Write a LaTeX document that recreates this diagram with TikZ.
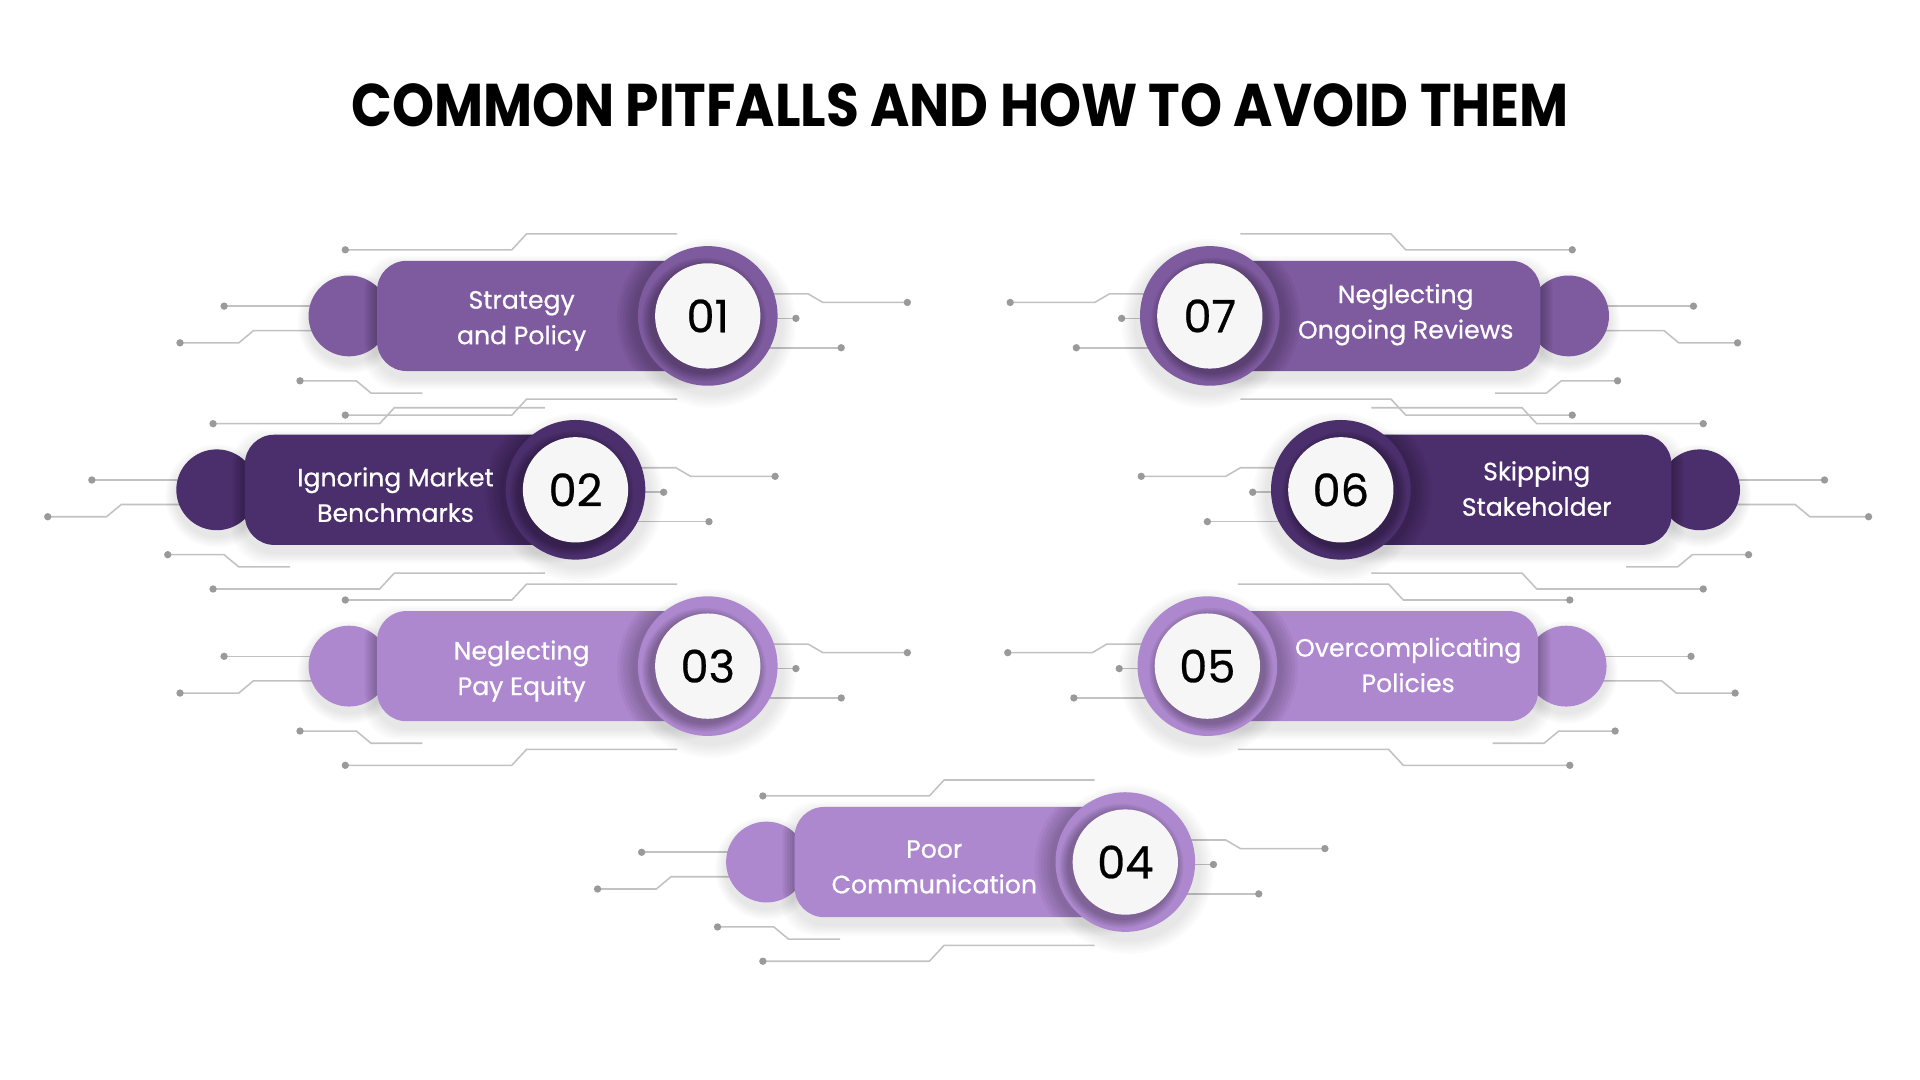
\documentclass[tikz,border=0pt]{standalone}
\usepackage{fontspec}
\setmainfont{Poppins}
\newfontfamily\medfont{Poppins}[FakeBold=0.6]
\definecolor{pmid}{HTML}{7E5A9F}
\definecolor{pdark}{HTML}{4B2E6C}
\definecolor{plight}{HTML}{AE88CF}
\definecolor{leadc}{HTML}{C2C2C2}
\definecolor{dotc}{HTML}{9A9A9A}
\definecolor{wcirc}{HTML}{F6F6F6}
\tikzset{
  lead/.style={draw=leadc, line width=0.9pt},
  leaddot/.style={fill=dotc},
  lbl/.style={text=white, align=center, font=\medfont\fontsize{14.6}{20.6}\selectfont},
  numc/.style={circle, fill=wcirc, minimum size=2.15cm, inner sep=0pt, text=black, font=\medfont\fontsize{26}{26}\selectfont},
  titlef/.style={text=black, font=\bfseries\fontsize{35}{35}\selectfont, anchor=base},
}
% leaders: rx, cy, side
\newcommand\pleads[3]{%
  \draw[lead] ({#1-#3*296},{#2-54}) -- ({#1-#3*160},{#2-54}) -- ({#1-#3*148},{#2-67}) -- ({#1-#3*25},{#2-67});
  \fill[leaddot] ({#1-#3*296},{#2-54}) circle[radius=0.075cm];
  \draw[lead] ({#1-#3*395},{#2-8}) -- ({#1-#3*320},{#2-8});
  \fill[leaddot] ({#1-#3*395},{#2-8}) circle[radius=0.075cm];
  \draw[lead] ({#1-#3*431},{#2+22}) -- ({#1-#3*383},{#2+22}) -- ({#1-#3*371},{#2+12}) -- ({#1-#3*322},{#2+12});
  \fill[leaddot] ({#1-#3*431},{#2+22}) circle[radius=0.075cm];
  \draw[lead] ({#1-#3*333},{#2+53}) -- ({#1-#3*287},{#2+53}) -- ({#1-#3*275},{#2+63}) -- ({#1-#3*233},{#2+63});
  \fill[leaddot] ({#1-#3*333},{#2+53}) circle[radius=0.075cm];
  \draw[lead] ({#1-#3*296},{#2+81}) -- ({#1-#3*160},{#2+81}) -- ({#1-#3*148},{#2+68}) -- ({#1-#3*25},{#2+68});
  \fill[leaddot] ({#1-#3*296},{#2+81}) circle[radius=0.075cm];
  \draw[lead] ({#1+#3*50},{#2-18}) -- ({#1+#3*82},{#2-18}) -- ({#1+#3*94},{#2-11}) -- ({#1+#3*163},{#2-11});
  \fill[leaddot] ({#1+#3*163},{#2-11}) circle[radius=0.075cm];
  \draw[lead] ({#1+#3*50},{#2+2}) -- ({#1+#3*72},{#2+2});
  \fill[leaddot] ({#1+#3*72},{#2+2}) circle[radius=0.075cm];
  \draw[lead] ({#1+#3*50},{#2+26}) -- ({#1+#3*109},{#2+26});
  \fill[leaddot] ({#1+#3*109},{#2+26}) circle[radius=0.075cm];
}
% item: rx, cy, side, colour, number, text x, text
\newcommand\pitem[7]{%
  % soft drop shadows
  \foreach \k in {1,...,6}{
    \fill[black, opacity=0.016, rounded corners=0.7cm] ({#1-#3*(272+\k*1.5)},{#2-40-\k*1.5}) rectangle ({#1+#3*(10)},{#2+51+\k*1.5});
    \fill[black, opacity=0.016] ({#1+#3*3},{#2+6}) circle[radius={(57+\k*2)*0.025cm}];
    \fill[black, opacity=0.016] ({#1-#3*293},{#2+5}) circle[radius={(33+\k*1.5)*0.025cm}];
  }
  % small circle
  \fill[#4] ({#1-#3*293},#2) circle[radius=0.825cm];
  \begin{scope}
    \clip ({#1-#3*293},#2) circle[radius=0.825cm];
    \foreach \k in {1,...,5}
      \fill[black, opacity=0.05, rounded corners=0.6cm] ({#1-#3*(270+\k*2)},{#2-45}) rectangle (#1,{#2+45});
  \end{scope}
  % pill
  \fill[#4, rounded corners=0.6cm] ({#1-#3*270},{#2-45}) rectangle (#1,{#2+45});
  \begin{scope}
    \clip[rounded corners=0.6cm] ({#1-#3*270},{#2-45}) rectangle (#1,{#2+45});
    \foreach \k in {1,...,6}
      \fill[black, opacity=0.04] ({#1-#3*2},{#2+2}) circle[radius={(57+\k*2.5)*0.025cm}];
  \end{scope}
  % ring
  \fill[#4] (#1,#2) circle[radius=1.425cm];
  \begin{scope}
    \clip (#1,#2) circle[radius=1.425cm];
    \foreach \k in {1,...,5}
      \fill[black, opacity=0.06] ({#1-#3*3},{#2+3}) circle[radius={(43+\k*1.5)*0.025cm}];
  \end{scope}
  \node[numc] (n#5) at (#1,#2) {#5};
  \node[lbl] (t#5) at (#6,{#2+1.5+2.5*#3}) {#7};
}
\begin{document}
\begin{tikzpicture}[x=0.025cm, y=-0.025cm]
\useasboundingbox (0,0) rectangle (1568,882);
\fill[white] (0,0) rectangle (1568,882);
\node[titlef] (title) at (784,103) {\scalebox{0.887}[1]{COMMON PITFALLS AND HOW TO AVOID THEM}};
% leaders
\pleads{578}{258}{1}
\pleads{470}{400}{1}
\pleads{578}{544}{1}
\pleads{919}{704}{1}
\pleads{988}{258}{-1}
\pleads{1095}{400}{-1}
\pleads{986}{544}{-1}
% items
\pitem{578}{258}{1}{pmid}{01}{426}{Strategy\\and Policy}
\pitem{470}{400}{1}{pdark}{02}{323}{Ignoring Market\\Benchmarks}
\pitem{578}{544}{1}{plight}{03}{426}{Neglecting\\Pay Equity}
\pitem{919}{704}{1}{plight}{04}{763}{Poor\\Communication}
\pitem{988}{258}{-1}{pmid}{07}{1148}{Neglecting\\Ongoing Reviews}
\pitem{1095}{400}{-1}{pdark}{06}{1255}{Skipping\\Stakeholder}
\pitem{986}{544}{-1}{plight}{05}{1150}{Overcomplicating\\Policies}
\end{tikzpicture}
\end{document}
